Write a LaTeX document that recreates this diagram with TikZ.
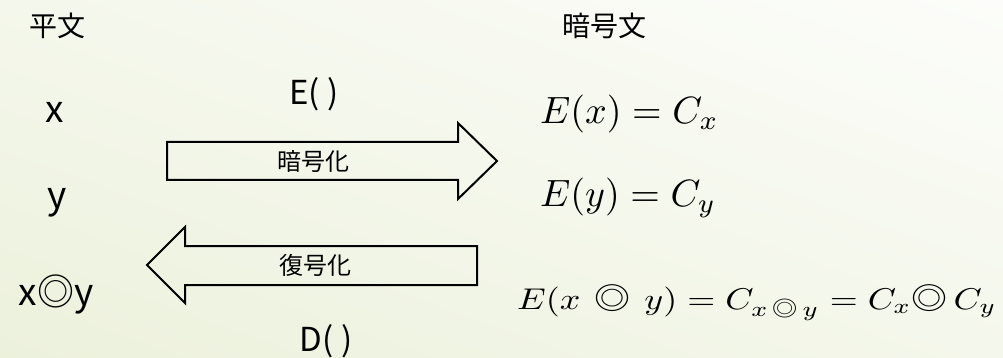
\documentclass[tikz,border=0pt]{standalone}
\usepackage{amsmath}
\usepackage{fontspec}
\usetikzlibrary{shadings}
\setmainfont{Noto Sans CJK JP}
\definecolor{bgA}{RGB}{236,241,220}
\definecolor{bgB}{RGB}{252,253,250}
\newcommand{\dcirc}{\mathbin{\text{◎}}}
\tikzset{
  lbl/.style={inner sep=0pt, font=\fontsize{28}{30}\selectfont},
  var/.style={inner sep=0pt, anchor=base, font=\fontsize{37}{40}\selectfont},
  fn/.style={inner sep=0pt, anchor=base, font=\fontsize{33}{36}\selectfont},
  arrlbl/.style={inner sep=0pt, font=\fontsize{24}{26}\selectfont},
  eqA/.style={inner sep=0pt, anchor=base west},
  eqB/.style={inner sep=0pt, anchor=base west},
  bigarrow/.style={draw=black, line width=2pt, line join=miter}
}
\begin{document}
\begin{tikzpicture}[x=1pt,y=-1pt]
\useasboundingbox (0,0) rectangle (1003,358);
\shade[lower left=bgA, upper right=bgB, lower right=bgB!50!bgA, upper left=bgB!50!bgA] (0,358) rectangle (1003,0);
% headers
\node[lbl] (plain) at (57,26) {平文};
\node[lbl] (cipher) at (604,26) {暗号文};
% plaintext symbols
\node[var] (px) at (55,123) {x};
\node[var] (py) at (57,208) {y};
\node[var] (pxy) at (56,305) {x◎y};
% function labels
\node[fn] (E) at (314,105) {E( )};
\node[fn] (D) at (326,351) {D( )};
% right arrow
\draw[bigarrow] (167,142) coordinate (ra1) -- (458,142) -- (458,123) -- (497,161) coordinate (rtip) -- (458,199) -- (458,180) -- (167,180) -- cycle;
\node[arrlbl] (enc) at (313,161) {暗号化};
% left arrow
\draw[bigarrow] (477,246) coordinate (la1) -- (185,246) -- (185,227) -- (147,265) coordinate (ltip) -- (185,303) -- (185,285) -- (477,285) -- cycle;
\node[arrlbl] (dec) at (315,265) {復号化};
% equations
\node[eqA] (e1) at (540,124) {\scalebox{3.8}{$E(x)=C_x$}};
\node[eqA] (e2) at (540,207) {\scalebox{3.8}{$E(y)=C_y$}};
\node[eqB] (e3) at (517,309) {\scalebox{3.6}[3.0]{$E(x\,\dcirc\,y)=C_{x\,\dcirc\,y}=C_x{\dcirc}\,C_y$}};
\end{tikzpicture}
\end{document}
